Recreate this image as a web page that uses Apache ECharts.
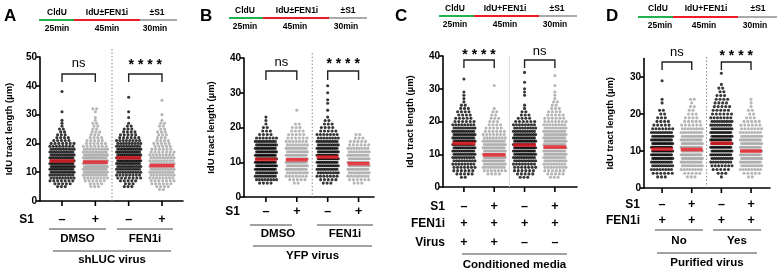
<!DOCTYPE html>
<html><head><meta charset="utf-8">
<script src="https://cdn.jsdelivr.net/npm/echarts@6/dist/echarts.min.js"></script>
<style>html,body{margin:0;padding:0;background:#fff}#c{width:780px;height:272px}</style>
</head><body><div id="c"></div>
<script>
// ---------------- DATA : [IdU tract length (µm), number of fibres] ----------------
const A_dmso_neg = [[5,3],[6,5],[7,7],[8,9],[9,10],[10,12],[11,13],[12,14],[13,14],[14,14],[15,13],[16,12],[17,11],[18,10],[19,8],[20,7],[21,5],[22,4],[23,3],[24,2],[25,2],[26,1],[27,1],[28,1],[31,1],[38,1]];
const A_dmso_pos = [[5,3],[6,4],[7,6],[8,8],[9,10],[10,12],[11,13],[12,14],[13,15],[14,14],[15,13],[16,12],[17,10],[18,9],[19,7],[20,6],[21,5],[22,4],[23,3],[24,3],[25,2],[26,2],[27,2],[28,1],[29,1],[31,1],[32,2]];
const A_fen_neg  = [[5,3],[6,3],[7,5],[8,7],[9,8],[10,10],[11,11],[12,12],[13,13],[14,14],[15,14],[16,13],[17,13],[18,12],[19,10],[20,9],[21,8],[22,6],[23,5],[24,4],[25,3],[26,2],[27,1],[29,1],[31,1],[36,1]];
const A_fen_pos  = [[4,2],[5,4],[6,6],[7,7],[8,8],[9,9],[10,10],[11,11],[12,11],[13,10],[14,9],[15,9],[16,8],[17,7],[18,6],[19,5],[20,5],[21,4],[22,3],[23,3],[24,3],[25,2],[26,2],[27,2],[28,1],[30,1],[35,1]];
const A_medians  = [13.9, 13.5, 15.0, 12.3];

const B_dmso_neg = [[4,4],[5,8],[6,10],[7,12],[8,14],[9,15],[10,16],[11,16],[12,15],[13,14],[14,13],[15,12],[16,10],[17,7],[18,4],[19,3],[20,2],[21,1],[22,1],[23,1]];
const B_dmso_pos = [[4,2],[5,5],[6,7],[7,9],[8,11],[9,12],[10,13],[11,13],[12,12],[13,11],[14,10],[15,8],[16,7],[17,6],[18,5],[19,4],[20,3],[21,2],[25,1]];
const B_fen_neg  = [[4,3],[5,5],[6,7],[7,9],[8,11],[9,12],[10,13],[11,14],[12,14],[13,13],[14,12],[15,11],[16,10],[17,8],[18,7],[19,5],[20,4],[21,3],[22,2],[23,1],[25,1],[27,1],[28,1],[30,1],[32,1]];
const B_fen_pos  = [[4,3],[5,6],[6,8],[7,10],[8,11],[9,12],[10,12],[11,11],[12,10],[13,9],[14,8],[15,6],[16,5],[17,3],[18,2]];
const B_medians  = [10.8, 10.7, 11.5, 9.6];

const C_virus_neg   = [[3,2],[4,5],[5,6],[6,7],[7,8],[8,9],[9,10],[10,11],[11,12],[12,13],[13,13],[14,13],[15,12],[16,12],[17,11],[18,10],[19,8],[20,6],[21,5],[22,4],[23,4],[24,3],[25,2],[26,1],[27,1],[28,1],[29,1],[33,1]];
const C_virus_pos   = [[4,4],[5,7],[6,9],[7,11],[8,13],[9,14],[10,14],[11,13],[12,12],[13,11],[14,10],[15,8],[16,7],[17,6],[18,5],[19,4],[20,3],[21,3],[22,2],[23,2],[24,1],[31,1]];
const C_novirus_neg = [[3,3],[4,5],[5,6],[6,7],[7,8],[8,10],[9,11],[10,12],[11,13],[12,14],[13,14],[14,13],[15,12],[16,11],[17,10],[18,9],[19,8],[20,6],[21,4],[22,3],[23,2],[24,1],[25,1],[28,1],[29,1],[30,1],[32,1],[35,1]];
const C_novirus_pos = [[3,3],[4,5],[5,6],[6,8],[7,9],[8,10],[9,11],[10,12],[11,13],[12,13],[13,13],[14,12],[15,12],[16,11],[17,10],[18,9],[19,8],[20,7],[21,6],[22,5],[23,4],[24,3],[25,2],[26,2],[27,1],[28,1],[29,1],[31,1],[34,1]];
const C_medians     = [13.3, 9.8, 12.8, 12.2];

const D_no_neg  = [[3,3],[4,6],[5,8],[6,10],[7,12],[8,13],[9,14],[10,15],[11,15],[12,14],[13,13],[14,12],[15,10],[16,7],[17,5],[18,4],[19,3],[20,2],[21,2],[23,1],[24,1],[29,1]];
const D_no_pos  = [[3,3],[4,5],[5,8],[6,10],[7,12],[8,13],[9,14],[10,14],[11,14],[12,13],[13,12],[14,11],[15,9],[16,8],[17,6],[18,5],[19,4],[20,3],[21,2],[22,2],[23,1],[24,2]];
const D_yes_neg = [[3,1],[4,3],[5,5],[6,7],[7,9],[8,10],[9,12],[10,13],[11,14],[12,15],[13,14],[14,13],[15,12],[16,11],[17,10],[18,9],[19,7],[20,6],[21,5],[22,5],[23,4],[24,4],[25,3],[26,2],[27,2],[28,1],[31,1]];
const D_yes_pos = [[3,2],[4,5],[5,8],[6,10],[7,12],[8,13],[9,14],[10,14],[11,13],[12,12],[13,11],[14,10],[15,8],[16,7],[17,6],[18,5],[19,3],[20,2],[21,2],[22,1],[23,1],[24,1]];
const D_medians = [10.5, 10.4, 12.1, 10.0];

const yTicksA = [0,10,20,30,40,50];
const yTicksB = [0,10,20,30,40];
const yTicksC = [0,10,20,30,40];
const yTicksD = [0,10,20,30];

const S1_row    = ['–','+','–','+'];
const FEN1i_C   = ['+','+','+','+'];
const Virus_C   = ['+','+','–','–'];
const FEN1i_D   = ['+','+','+','+'];
const sigA = ['ns','* * * *'], sigB = ['ns','* * * *'], sigC = ['* * * *','ns'], sigD = ['ns','* * * *'];
const protoAB = ['CldU','IdU±FEN1i','±S1'];
const protoCD = ['CldU','IdU+FEN1i','±S1'];
const protoTimes = ['25min','45min','30min'];
const yTitle = 'IdU tract length (µm)';

// ---------------- LAYOUT ----------------
const FONT = '"Liberation Sans", Arial, sans-serif';
const BLACK = '#050505', GRAY = '#a4a4a4', RED = '#ee1c24', GREEN = '#22b14c', PGRAY = '#aaaaaa';

const panels = [
  {letter:'A', lx:4, grid:{left:40, top:57, width:143, height:144}, xr:[-0.66,3.63], ymax:50, ticks:yTicksA, nameGap:26,
   groups:[A_dmso_neg,A_dmso_pos,A_fen_neg,A_fen_pos], med:A_medians, half:11.5,
   proto:{y:20, x:[39,74,140,177], ty:13, by:29, lab:protoAB, lx:[57,107,157], tx:[57,107,155]},
   sig:{lab:sigA, ty:[63,63], top:74, bot:82}, divider:{top:49, dash:true},
   rows:[{lab:'S1', v:S1_row, y:220}], rowX:34,
   sub:[{t:'DMSO', x1:49, x2:106, ly:229, ty:239},{t:'FEN1i', x1:117, x2:173, ly:229, ty:239}],
   main:{t:'shLUC virus', x1:53, x2:171, ly:251, ty:260}},
  {letter:'B', lx:200, grid:{left:244, top:58, width:130, height:139}, xr:[-0.71,3.5], ymax:40, ticks:yTicksB, nameGap:28,
   groups:[B_dmso_neg,B_dmso_pos,B_fen_neg,B_fen_pos], med:B_medians, half:10,
   proto:{y:18, x:[229,263,329,367], ty:11, by:27, lab:protoAB, lx:[245,297,348], tx:[245,295,346]},
   sig:{lab:sigB, ty:[62,62], top:71, bot:80}, divider:{top:53, dash:true},
   rows:[{lab:'S1', v:S1_row, y:212}], rowX:240,
   sub:[{t:'DMSO', x1:250, x2:292, ly:225, ty:234, tx:278},{t:'FEN1i', x1:317, x2:373, ly:225, ty:234}],
   main:{t:'YFP virus', x1:253, x2:372, ly:246, ty:256}},
  {letter:'C', lx:395, grid:{left:443, top:56, width:134, height:131}, xr:[-0.69,3.73], ymax:40, ticks:yTicksC, nameGap:28,
   groups:[C_virus_neg,C_virus_pos,C_novirus_neg,C_novirus_pos], med:C_medians, half:10.5,
   proto:{y:16, x:[439,474,539,577], ty:9, by:25, lab:protoCD, lx:[455,505,557], tx:[455,505,555]},
   sig:{lab:sigC, ty:[53,51], top:60, bot:68}, divider:{top:56, dash:false},
   rows:[{lab:'S1', v:S1_row, y:207},{lab:'FEN1i', v:FEN1i_C, y:224},{lab:'Virus', v:Virus_C, y:243}], rowX:445,
   sub:[],
   main:{t:'Conditioned media', x1:462, x2:567, ly:254, ty:265}},
  {letter:'D', lx:606, grid:{left:644, top:58.5, width:126, height:129.5}, xr:[-0.61,3.64], ymax:35, ticks:yTicksD, nameGap:29,
   groups:[D_no_neg,D_no_pos,D_yes_neg,D_yes_pos], med:D_medians, half:10,
   proto:{y:17, x:[638,673,738,777], ty:9, by:26, lab:protoCD, lx:[658,706,758], tx:[660,704,755]},
   sig:{lab:sigD, ty:[52,54], top:62, bot:70}, divider:{top:57, dash:true},
   rows:[{lab:'S1', v:S1_row, y:205},{lab:'FEN1i', v:FEN1i_D, y:221}], rowX:640,
   sub:[{t:'No', x1:655, x2:703, ly:230, ty:241},{t:'Yes', x1:713, x2:761, ly:230, ty:241}],
   main:{t:'Purified virus', x1:657, x2:757, ly:253, ty:263}}
];

// beeswarm-style placement of each value row around its category
function swarm(bins, cat, ppu, halfPx) {
  const pts = [];
  bins.forEach(([v, n], r) => {
    const stepPx = n > 1 ? Math.min(3.8, 2 * halfPx / (n - 1)) : 0;
    const jig = (r % 2 ? 0.6 : -0.6);
    for (let k = 0; k < n; k++) {
      const off = (k - (n - 1) / 2) * stepPx + (n > 1 ? jig : 0);
      pts.push([cat + off / ppu, v]);
    }
  });
  return pts;
}

const grids = [], xAxes = [], yAxes = [], series = [];
panels.forEach((p, i) => {
  grids.push(Object.assign({containLabel:false, outerBoundsMode:'none'}, p.grid));
  const ppu = p.grid.width / (p.xr[1] - p.xr[0]);
  xAxes.push({gridIndex:i, type:'value', min:p.xr[0], max:p.xr[1], position:'bottom',
    axisLine:{show:true, onZero:false, lineStyle:{color:'#000', width:1.6}},
    axisTick:{show:false}, axisLabel:{show:false}, splitLine:{show:false}});
  yAxes.push({gridIndex:i, type:'value', min:0, max:p.ymax, interval:10, position:'left',
    axisLine:{show:true, onZero:false, lineStyle:{color:'#000', width:1.6}},
    axisTick:{show:true, customValues:p.ticks, length:4, lineStyle:{color:'#000', width:1.6}},
    axisLabel:{customValues:p.ticks, fontSize:10, fontWeight:'bold', color:'#000', margin:3, fontFamily:FONT},
    splitLine:{show:false},
    name:yTitle, nameLocation:'middle', nameGap:p.nameGap, nameRotate:90,
    nameTextStyle:{fontSize:9.5, fontWeight:'bold', color:'#000', fontFamily:FONT}});
  p.groups.forEach((g, c) => {
    series.push({type:'scatter', xAxisIndex:i, yAxisIndex:i, symbol:'circle', symbolSize:3.1,
      itemStyle:{color: c % 2 ? GRAY : BLACK}, silent:true, data: swarm(g, c, ppu, p.half), z:2});
  });
  series.push({type:'scatter', xAxisIndex:i, yAxisIndex:i, symbol:'rect', symbolSize:[2*p.half+2, 3.5],
    itemStyle:{color:RED}, silent:true, z:5, data:p.med.map((m, c) => [c, m])});
});

const chart = echarts.init(document.getElementById('c'), null, {renderer:'canvas'});
chart.setOption({animation:false, backgroundColor:'#fff', grid:grids, xAxis:xAxes, yAxis:yAxes, series});

// ---------------- ANNOTATIONS ----------------
const G = [];
function T(x, y, text, size, weight, align) {
  align = align || 'center';
  G.push({type:'text', x, y, silent:true, z:10, style:{text, font:`${weight || 'bold'} ${size}px ${FONT}`, fill:'#000',
    align, verticalAlign:'middle', textAlign:align, textVerticalAlign:'middle'}});
}
function L(x1, y1, x2, y2, color, w, dash) {
  G.push({type:'line', silent:true, z:10, shape:{x1, y1, x2, y2}, style:{stroke:color, lineWidth:w, lineDash:dash || null}});
}
panels.forEach((p, i) => {
  const cx = c => chart.convertToPixel({gridIndex:i}, [c, 0])[0];
  const y0 = chart.convertToPixel({gridIndex:i}, [0, 0])[1];
  T(p.lx, 16, p.letter, 17, 'bold', 'left');
  const pr = p.proto;
  L(pr.x[0], pr.y, pr.x[1], pr.y, GREEN, 2);
  L(pr.x[1], pr.y, pr.x[2], pr.y, RED, 2);
  L(pr.x[2], pr.y, pr.x[3], pr.y, PGRAY, 2);
  pr.lab.forEach((t, k) => T(pr.lx[k], pr.ty, t, 8.5));
  protoTimes.forEach((t, k) => T(pr.tx[k], pr.by, t, 8.5));
  // x-axis ticks at the four categories
  [0,1,2,3].forEach(c => L(cx(c), y0, cx(c), y0 + 5, '#000', 1.6));
  // divider between the two pairs
  const dx = cx(1.5);
  L(dx, p.divider.top, dx, y0, p.divider.dash ? '#8a8a8a' : '#dcdcdc', 1, p.divider.dash ? [1.5, 2] : null);
  // significance brackets
  [[0,1],[2,3]].forEach((pair, k) => {
    const a = cx(pair[0]), b = cx(pair[1]);
    G.push({type:'polyline', silent:true, z:10, shape:{points:[[a, p.sig.bot],[a, p.sig.top],[b, p.sig.top],[b, p.sig.bot]]},
      style:{stroke:'#222', lineWidth:1.4, fill:null}});
    const isNs = p.sig.lab[k] === 'ns';
    T((a + b) / 2, p.sig.ty[k] + (isNs ? 0 : 2), p.sig.lab[k], isNs ? 13 : 14, isNs ? 'normal' : 'bold');
  });
  // condition rows
  p.rows.forEach(r => {
    T(p.rowX, r.y, r.lab, 12, 'bold', 'right');
    r.v.forEach((s, c) => T(cx(c), r.y, s, 12.5));
  });
  p.sub.forEach(s => {
    L(s.x1, s.ly, s.x2, s.ly, '#444', 1);
    T(s.tx || (s.x1 + s.x2) / 2, s.ty, s.t, 11.5);
  });
  L(p.main.x1, p.main.ly, p.main.x2, p.main.ly, '#444', 1);
  T((p.main.x1 + p.main.x2) / 2, p.main.ty, p.main.t, 11.5);
});
chart.setOption({graphic:G});
</script></body></html>
